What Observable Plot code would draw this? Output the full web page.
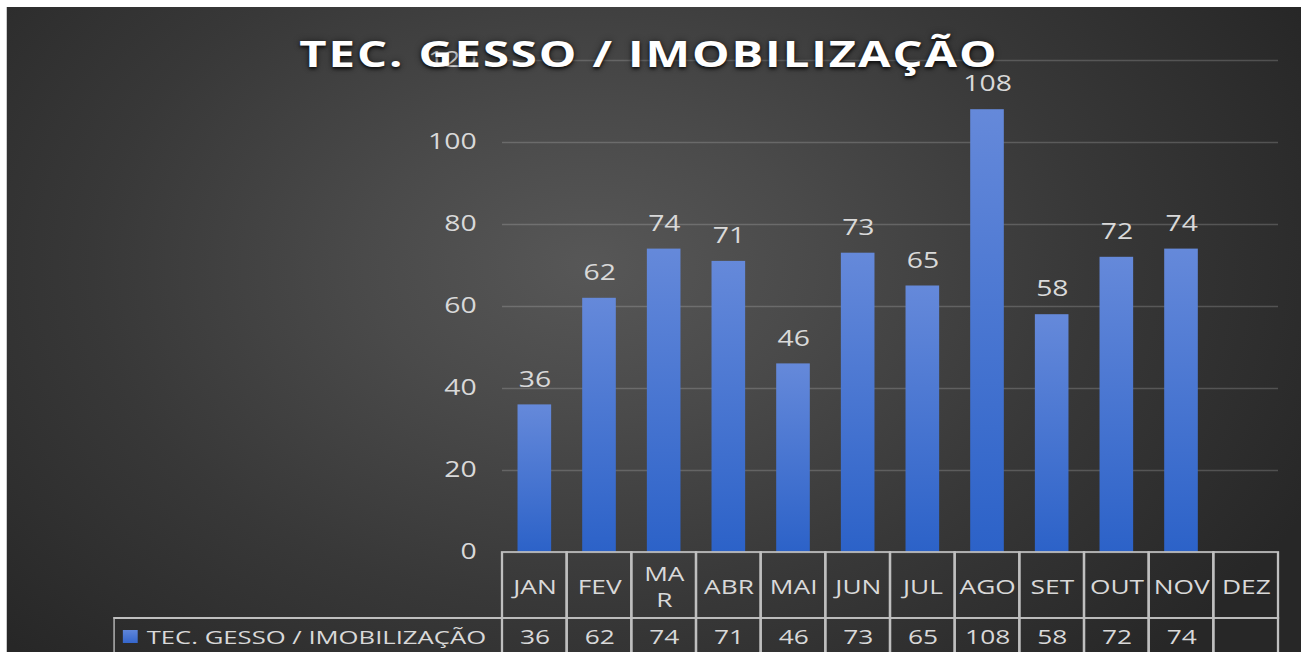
<!DOCTYPE html>
<html>
<head>
<meta charset="utf-8">
<script src="https://cdn.jsdelivr.net/npm/d3@7"></script>
<script src="https://cdn.jsdelivr.net/npm/@observablehq/plot@0.6"></script>
<style>
  html, body { margin: 0; padding: 0; background: #ffffff; overflow: hidden; }
  #outer { position: relative; width: 1301px; height: 652px; overflow: hidden; background: #ffffff; }
  /* the reference picture is stretched horizontally; reproduce that with one scale */
  #wrap { position: absolute; left: 0; top: 0; width: 964px; height: 652px;
          transform: scaleX(1.35); transform-origin: 0 0; }
  #panel { position: absolute; left: 5.2px; top: 7px; width: 958.8px; height: 645px;
           background: radial-gradient(ellipse 62% 85% at 45% 40%, #575757 0%, #4a4a4a 28%, #383838 62%, #272727 100%); }
  #chart { position: absolute; left: 0; top: 0; }
  #title { position: absolute; left: 0; width: 961.4px; top: 38.5px; text-align: center;
           font-family: "Open Sans", sans-serif; font-weight: 700; font-size: 35px; line-height: 30px;
           letter-spacing: 1.4px; color: #ffffff; white-space: nowrap;
           text-shadow: 0 2px 3px rgba(0,0,0,0.75), 0 0 6px rgba(0,0,0,0.45); }
  #legend { position: absolute; left: 83.7px; top: 617px; width: 288.2px; height: 50px; box-sizing: border-box;
            border-left: 1.6px solid #bfbfbf; border-top: 2px solid #bfbfbf;
            font-family: "Open Sans", sans-serif; font-size: 19px; color: #d9d9d9; white-space: nowrap; }
  #legend .sw { position: absolute; left: 6.5px; top: 11px; width: 11px; height: 13px;
                background: linear-gradient(#5f86da, #3566cc); }
  #legend .tx { position: absolute; left: 24px; top: 3px; line-height: 30px; }
</style>
</head>
<body>
<div id="outer">
  <div id="wrap">
    <div id="panel"></div>
    <div id="chart"></div>
    <div id="legend"><div class="sw"></div><div class="tx"></div></div>
    <div id="title"></div>
  </div>
</div>
<script>
const chartTitle = "TEC. GESSO / IMOBILIZAÇÃO";
const seriesName = "TEC. GESSO / IMOBILIZAÇÃO";
const months = ["JAN", "FEV", "MAR", "ABR", "MAI", "JUN", "JUL", "AGO", "SET", "OUT", "NOV", "DEZ"];
const monthLabels = ["JAN", "FEV", "MA\nR", "ABR", "MAI", "JUN", "JUL", "AGO", "SET", "OUT", "NOV", "DEZ"];
const values = [36, 62, 74, 71, 46, 73, 65, 108, 58, 72, 74, null];
const yTicks = [0, 20, 40, 60, 80, 100, 120];

const data = months.map((m, i) => ({ month: m, label: monthLabels[i], value: values[i] }));
const withValue = data.filter(d => d.value != null);

document.getElementById("title").textContent = chartTitle;
document.querySelector("#legend .tx").textContent = seriesName;

const textColor = "#d9d9d9";
const borderColor = "#bfbfbf";

const svg = Plot.plot({
  width: 964,
  height: 652,
  marginLeft: 371.85,
  marginRight: 17.33,
  marginTop: 60,
  marginBottom: 100,
  style: { background: "transparent", color: textColor, fontFamily: "'Open Sans', sans-serif", fontSize: "21px", overflow: "visible" },
  x: { domain: months, padding: 0, round: false, axis: null },
  y: { domain: [0, 120], axis: null },
  marks: [
    Plot.gridY({ ticks: yTicks, stroke: "#d9d9d9", strokeOpacity: 0.22, strokeWidth: 1.5 }),
    Plot.axisY({ ticks: yTicks, label: null, tickSize: 0, tickPadding: 19.3, fontSize: 21, fill: textColor }),
    Plot.barY(withValue, { x: "month", y: "value", fill: "url(#barGrad)", insetLeft: 11.5, insetRight: 11.5 }),
    Plot.text(withValue, { x: "month", y: "value", text: d => String(d.value), dy: -25, fontSize: 21, fill: textColor }),
    // data table: header row of month names
    Plot.barY(data, { x: "month", y1: 0, y2: 0, insetBottom: -66, fill: "none", stroke: borderColor, strokeWidth: 1.7 }),
    Plot.text(data, { x: "month", y: 0, dy: 33, text: "label", fontSize: 19.5, lineHeight: 1.35, fill: textColor }),
    // data table: value row
    Plot.barY(data, { x: "month", y1: 0, y2: 0, insetTop: 66, insetBottom: -115, fill: "none", stroke: borderColor, strokeWidth: 1.7 }),
    Plot.text(withValue, { x: "month", y: 0, dy: 85.5, text: d => String(d.value), fontSize: 19.5, fill: textColor })
  ]
});

const defs = d3.select(svg).insert("defs", ":first-child");
const grad = defs.append("linearGradient").attr("id", "barGrad")
  .attr("x1", 0).attr("y1", 0).attr("x2", 0).attr("y2", 1);
grad.append("stop").attr("offset", 0).attr("stop-color", "#6589da");
grad.append("stop").attr("offset", 1).attr("stop-color", "#2c62c8");

document.getElementById("chart").appendChild(svg);
</script>
</body>
</html>
